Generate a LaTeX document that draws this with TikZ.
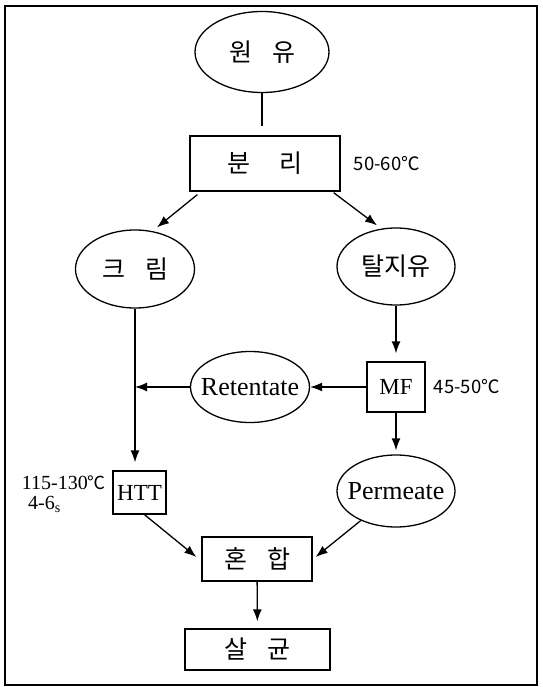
\documentclass[tikz,border=0pt]{standalone}
\usepackage{fontspec}
\setmainfont{Liberation Serif}
\newfontfamily\kr{Noto Sans CJK KR}
\usetikzlibrary{shapes.geometric,arrows.meta,positioning}
\newcommand{\gap}{\hspace{0.8em}}
\newcommand{\inoval}[1]{\makebox[0pt]{#1}}

\begin{document}
\begin{tikzpicture}[x=1pt,y=-1pt,
    oval/.style={draw,ellipse,line width=1.3pt,inner sep=0pt},
    box/.style={draw,rectangle,line width=1.3pt,inner sep=0pt},
    ktext/.style={font=\kr\fontsize{25}{28}\selectfont},
    ltext/.style={font=\fontsize{26}{29}\selectfont},
    stext/.style={font=\fontsize{23}{26}\selectfont},
    temp/.style={inner sep=0pt,font=\kr\fontsize{18.5}{21}\selectfont},
    ttemp/.style={inner sep=0pt,font=\fontsize{20}{22}\selectfont},
    arr/.style={-{Latex[length=12pt,width=9pt]},line width=1.3pt}]
\useasboundingbox (0,0) rectangle (542,687);
\draw[line width=2pt] (5,6) rectangle (537,685);

\node[oval,ktext,minimum width=134pt,minimum height=81pt] (raw) at (262,52) {\inoval{원\gap 유}};
\node[box,ktext,minimum width=150pt,minimum height=55pt] (sep) at (265,163.5) {분\hspace{1.2em}리};
\node[temp,right=13pt of sep] (t1) {50-60℃};
\node[oval,ktext,minimum width=119pt,minimum height=78pt] (krim) at (135,269) {\inoval{크\gap 림}};
\node[oval,ktext,minimum width=118pt,minimum height=77pt] (skim) at (396,266.5) {\inoval{탈지유}};
\node[box,stext,minimum width=58pt,minimum height=50pt] (mf) at (396,387) {MF};
\node[temp,right=8pt of mf] (t2) {45-50℃};
\node[oval,ltext,minimum width=119pt,minimum height=71pt] (ret) at (250,387) {\inoval{Retentate}};
\node[oval,ltext,minimum width=118pt,minimum height=72pt] (perm) at (396,491) {\inoval{Permeate}};
\node[box,stext,minimum width=53pt,minimum height=43pt] (htt) at (139.5,492.5) {HTT};
\node[ttemp,anchor=east] (t3) at (106,483) {115-130{\kr\fontsize{18}{20}\selectfont ℃}};
\node[ttemp,anchor=west] (t4) at (28,504) {4-6\textsubscript{s}};
\node[box,ktext,minimum width=110pt,minimum height=44pt] (mix) at (257,559) {혼\gap 합};
\node[box,ktext,minimum width=145pt,minimum height=41pt] (ster) at (257.5,649.5) {살\gap 균};

\draw[line width=1.3pt,shorten >=9pt] (raw) -- (raw.south |- sep.north);
\draw[arr] ([xshift=8pt,yshift=-3pt]sep.south west) -- ([xshift=22pt,yshift=2pt]krim.north);
\draw[arr] ([xshift=-7pt,yshift=-1pt]sep.south east) -- ([xshift=-19pt,yshift=2pt]skim.north);
\draw[arr,shorten >=8pt] (skim) -- (mf);
\draw[arr] (mf) -- (ret);
\draw[arr,shorten >=4pt] (mf) -- (perm);
\draw[arr,shorten >=8pt] (krim) -- (krim.south |- htt.north);
\draw[arr] (ret) -- (ret.west -| krim.south);
\draw[arr] ([xshift=5pt]htt.south) -- ([xshift=-5pt,yshift=2pt]mix.west);
\draw[arr] (perm.220) -- ([xshift=3pt,yshift=2pt]mix.east);
\draw[arr,shorten >=7pt] (mix) -- (ster);
\end{tikzpicture}
\end{document}
